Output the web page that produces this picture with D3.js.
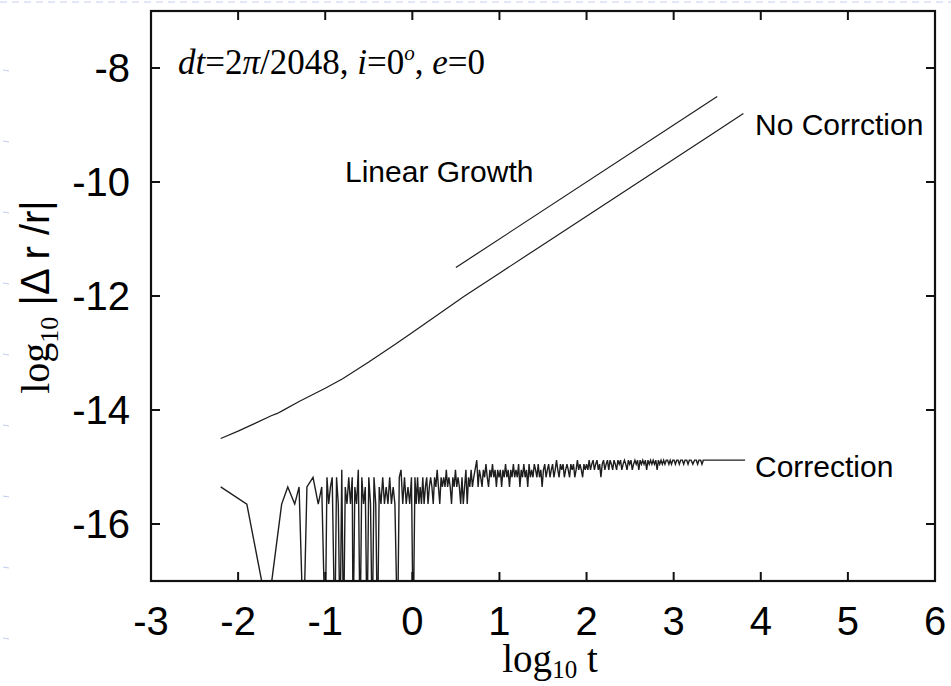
<!DOCTYPE html>
<html>
<head>
<meta charset="utf-8">
<script src="https://cdn.jsdelivr.net/npm/d3@7"></script>
<style>
    body { margin: 0; background: #fff; }
</style>
</head>
<body>
<svg id="chart" width="951" height="686"></svg>
<script>
// tick values
const xTickValues = [-3, -2, -1, 0, 1, 2, 3, 4, 5, 6];
const yTickValues = [-16, -14, -12, -10, -8];

// log10 |dr/r| without correction
const noCorrection = [
    [-2.2, -14.5], [-2.0, -14.37], [-1.8, -14.23], [-1.62, -14.1], [-1.55, -14.06], [-1.5, -14.02],
    [-1.3, -13.85], [-1.0, -13.62], [-0.8, -13.45], [-0.5, -13.16], [-0.2, -12.85], [0, -12.64],
    [0.3, -12.32], [0.6, -12.0], [1.0, -11.6], [1.5, -11.1], [2.0, -10.6], [2.5, -10.1],
    [3.0, -9.6], [3.5, -9.1], [3.8, -8.8]
];

// reference line, slope 1
const linearGrowth = [[0.5, -11.5], [3.5, -8.5]];

// with correction the error sits on round-off levels (1..6 ulp); zero error drops off the bottom
const q1 = -15.65, q2 = -15.35, q3 = -15.18, q4 = -15.05, q5 = -14.95, q6 = -14.88;
const ZERO = -18;
const correction = [
    [-2.2, q2], [-1.9, q1], [-1.66, -17.55], [-1.5, q1], [-1.43, q2], [-1.35, q1],
    [-1.3, q2], [-1.25, ZERO], [-1.21, q2], [-1.14, q3], [-1.08, q1], [-1.04, q2],
    [-1.0, ZERO], [-0.98, q3], [-0.96, q1], [-0.94, q2], [-0.92, q3], [-0.89, ZERO],
    [-0.87, q3], [-0.85, q1], [-0.83, ZERO], [-0.81, q4], [-0.79, ZERO], [-0.77, q2],
    [-0.75, q1], [-0.73, q3], [-0.71, q1], [-0.69, q3], [-0.68, ZERO], [-0.66, q2],
    [-0.64, q1], [-0.62, q4], [-0.60, ZERO], [-0.58, q3], [-0.56, q1], [-0.54, q2],
    [-0.52, ZERO], [-0.50, q3], [-0.48, q1], [-0.46, ZERO], [-0.44, q3], [-0.42, q1],
    [-0.40, ZERO], [-0.38, q2], [-0.36, q1], [-0.34, q3], [-0.32, q1], [-0.30, q2],
    [-0.28, q1], [-0.26, q3], [-0.24, q1], [-0.22, q2], [-0.20, q1], [-0.17, ZERO],
    [-0.15, q3], [-0.13, q4], [-0.11, q1], [-0.09, q3], [-0.07, q1], [-0.05, q2],
    [-0.03, q1], [-0.01, q3], [0.01, ZERO], [0.03, q3],
    [0.045, q1], [0.06, q3], [0.075, q1], [0.09, q2], [0.105, q1], [0.12, q3],
    [0.135, q1], [0.15, q2], [0.165, q3], [0.18, q1], [0.195, q2], [0.21, q3],
    [0.225, q2], [0.24, q1], [0.255, q3], [0.27, q2], [0.285, q4], [0.30, q2],
    [0.315, q1], [0.33, q3], [0.345, q2], [0.36, q3], [0.375, q2], [0.39, q4],
    [0.405, q2], [0.42, q3], [0.435, q2], [0.45, q1], [0.465, q3], [0.48, q2],
    [0.495, q4], [0.51, q2], [0.525, q3], [0.54, q2], [0.555, q1], [0.57, q3],
    [0.585, q1], [0.60, q2], [0.615, q4], [0.63, q1], [0.645, q3], [0.66, q2],
    [0.675, q4], [0.69, q2], [0.705, q3], [0.72, q4], [0.74, q6], [0.755, q2],
    [0.77, q4], [0.785, q3], [0.80, q2], [0.815, q4], [0.83, q3], [0.845, q5],
    [0.86, q3], [0.875, q2], [0.89, q4], [0.905, q3], [0.92, q5], [0.935, q3],
    [0.95, q4], [0.965, q2], [0.98, q4], [0.995, q3],
    [1.010, q4], [1.025, q2], [1.040, q4], [1.055, q3], [1.070, q5], [1.085, q3],
    [1.100, q4], [1.115, q2], [1.130, q4], [1.145, q3], [1.160, q5], [1.175, q3],
    [1.190, q4], [1.205, q3], [1.220, q5], [1.235, q2], [1.250, q4], [1.265, q3],
    [1.280, q5], [1.295, q3], [1.310, q4], [1.325, q2], [1.340, q5], [1.355, q3],
    [1.370, q4], [1.385, q3], [1.400, q5], [1.415, q4], [1.430, q3], [1.445, q5],
    [1.460, q3], [1.475, q4], [1.490, q2], [1.505, q4], [1.520, q5], [1.535, q3],
    [1.550, q4], [1.565, q5], [1.580, q3], [1.595, q4], [1.610, q5], [1.625, q3],
    [1.640, q4], [1.655, q6], [1.670, q4], [1.685, q3], [1.700, q5], [1.715, q4],
    [1.730, q5], [1.745, q3], [1.760, q4], [1.775, q5], [1.790, q4], [1.805, q3],
    [1.820, q5], [1.835, q4], [1.850, q5], [1.865, q3], [1.880, q4], [1.895, q6],
    [1.910, q4], [1.925, q5], [1.940, q4], [1.955, q3], [1.970, q5], [1.985, q4],
    [2.000, q5], [2.015, q4], [2.030, q6], [2.045, q4], [2.060, q5], [2.075, q6],
    [2.090, q4], [2.105, q5], [2.120, q6], [2.135, q4], [2.150, q5], [2.165, q3],
    [2.180, q5], [2.195, q6], [2.210, q4], [2.225, q5], [2.240, q6], [2.255, q4],
    [2.270, q6], [2.285, q5], [2.300, q4], [2.315, q6], [2.330, q5], [2.345, q4],
    [2.360, q6], [2.375, q5], [2.390, q6], [2.405, q4], [2.420, q5], [2.435, q6],
    [2.450, q5], [2.465, q4], [2.480, q6], [2.495, q5], [2.510, q6], [2.525, q4],
    [2.540, q5], [2.555, q6], [2.570, q5], [2.585, q6], [2.600, q4], [2.615, q6],
    [2.630, q5], [2.645, q6], [2.660, q5], [2.675, q6], [2.690, q4], [2.705, q6],
    [2.720, q5], [2.735, q6], [2.750, q5], [2.765, q6], [2.780, q5], [2.795, q6],
    [2.810, q4], [2.825, q6], [2.840, q5], [2.855, q6], [2.870, q5], [2.885, q6],
    [2.900, q5], [2.915, q6], [2.930, q6], [2.945, q5], [2.960, q6], [2.975, q5],
    [2.990, q6], [3.005, q6], [3.020, q5], [3.035, q6], [3.050, q6], [3.065, q5],
    [3.080, q6], [3.100, q6], [3.115, q5], [3.130, q6], [3.150, q6], [3.165, q5],
    [3.180, q6], [3.200, q6], [3.220, q5], [3.240, q6], [3.260, q6], [3.275, q5],
    [3.290, q6], [3.310, q6], [3.325, q5], [3.340, q6], [3.82, q6]
];

const WIDTH = 951;
const HEIGHT = 686;
const PLOT_LEFT = 151;
const PLOT_RIGHT = 935;
const PLOT_TOP = 11;
const PLOT_BOTTOM = 581;
const TICK_LEN = 9;

const SANS = 'Liberation Sans, Arial, Helvetica, sans-serif';
const SERIF = 'Liberation Serif, Times New Roman, serif';
const COLOR_LINE = '#1e1e1e';

const svg = d3.select('#chart');
svg.append('rect').attr('width', WIDTH).attr('height', HEIGHT).attr('fill', '#fff');

// faint slide marks along the top and left edge
svg.append('line')
    .attr('x1', 0).attr('x2', WIDTH).attr('y1', 2).attr('y2', 2)
    .attr('stroke', '#c3cdf2').attr('stroke-width', 1).attr('stroke-dasharray', '7,5');
for (let yy = 70; yy < HEIGHT; yy += 71) {
    svg.append('line')
        .attr('x1', 3).attr('x2', 9).attr('y1', yy).attr('y2', yy + 1)
        .attr('stroke', '#c3cdf2').attr('stroke-width', 1.2);
}

const x = d3.scaleLinear().domain([-3, 6]).range([PLOT_LEFT, PLOT_RIGHT]);
const y = d3.scaleLinear().domain([-17, -7]).range([PLOT_BOTTOM, PLOT_TOP]);

const g = svg.append('g');

svg.append('clipPath').attr('id', 'plotClip')
    .append('rect')
    .attr('x', PLOT_LEFT).attr('y', PLOT_TOP)
    .attr('width', PLOT_RIGHT - PLOT_LEFT).attr('height', PLOT_BOTTOM - PLOT_TOP);

let line = d3.line()
    .x(function (d) { return x(d[0]); })
    .y(function (d) { return y(d[1]); });

// data lines
const dataG = g.append('g').attr('clip-path', 'url(#plotClip)');
[
    { data: noCorrection, width: 1.2 },
    { data: linearGrowth, width: 1.2 },
    { data: correction, width: 1.4 },
].forEach(function (series) {
    dataG.append('path')
        .attr('d', line(series.data))
        .attr('fill', 'none')
        .attr('stroke', COLOR_LINE)
        .attr('stroke-width', series.width)
        .attr('stroke-linejoin', 'miter');
});

// ticks, inward on all four sides
xTickValues.forEach(function (v) {
    g.append('line').attr('x1', x(v)).attr('x2', x(v))
        .attr('y1', PLOT_BOTTOM).attr('y2', PLOT_BOTTOM - TICK_LEN)
        .attr('stroke', '#111').attr('stroke-width', 2);
    g.append('line').attr('x1', x(v)).attr('x2', x(v))
        .attr('y1', PLOT_TOP).attr('y2', PLOT_TOP + TICK_LEN)
        .attr('stroke', '#111').attr('stroke-width', 2);
    g.append('text')
        .text(v)
        .attr('x', x(v))
        .attr('y', 635)
        .attr('text-anchor', 'middle')
        .attr('font-family', SANS)
        .attr('font-size', 40)
        .attr('fill', '#000');
});

yTickValues.forEach(function (v) {
    g.append('line').attr('x1', PLOT_LEFT).attr('x2', PLOT_LEFT + TICK_LEN)
        .attr('y1', y(v)).attr('y2', y(v))
        .attr('stroke', '#111').attr('stroke-width', 2);
    g.append('line').attr('x1', PLOT_RIGHT).attr('x2', PLOT_RIGHT - TICK_LEN)
        .attr('y1', y(v)).attr('y2', y(v))
        .attr('stroke', '#111').attr('stroke-width', 2);
    g.append('text')
        .text(v)
        .attr('x', 130)
        .attr('y', y(v) + 14)
        .attr('text-anchor', 'end')
        .attr('font-family', SANS)
        .attr('font-size', 40)
        .attr('fill', '#000');
});

// frame
g.append('rect')
    .attr('x', PLOT_LEFT).attr('y', PLOT_TOP)
    .attr('width', PLOT_RIGHT - PLOT_LEFT).attr('height', PLOT_BOTTOM - PLOT_TOP)
    .attr('fill', 'none').attr('stroke', '#111').attr('stroke-width', 2.2);

// axis titles
const xTitle = g.append('text')
    .attr('x', 550).attr('y', 672)
    .attr('text-anchor', 'middle')
    .attr('font-family', SERIF)
    .attr('font-size', 39);
xTitle.append('tspan').text('log');
xTitle.append('tspan').text('10').attr('font-size', 25).attr('dy', 6);
xTitle.append('tspan').text(' t').attr('dy', -6);

const yTitle = g.append('text')
    .attr('transform', 'translate(49,297) rotate(-90)')
    .attr('text-anchor', 'middle')
    .attr('font-family', SERIF)
    .attr('font-size', 40);
yTitle.append('tspan').text('log');
yTitle.append('tspan').text('10').attr('font-size', 26).attr('dy', 9);
yTitle.append('tspan').text(' |\u0394 r /r|').attr('dy', -9).attr('font-family', SANS);

// parameters
const note = g.append('text')
    .attr('x', 178).attr('y', 74)
    .attr('font-family', SERIF)
    .attr('font-size', 35);
note.append('tspan').text('dt').attr('font-style', 'italic');
note.append('tspan').text('=2');
note.append('tspan').text('\u03c0').attr('font-style', 'italic');
note.append('tspan').text('/2048, ');
note.append('tspan').text('i').attr('font-style', 'italic');
note.append('tspan').text('=0');
note.append('tspan').text('o').attr('font-style', 'italic').attr('font-size', 21).attr('dy', -14);
note.append('tspan').text(', ').attr('dy', 14);
note.append('tspan').text('e').attr('font-style', 'italic');
note.append('tspan').text('=0');

// line labels
const labels = [
    { text: 'Linear Growth', x: 345, y: 182 },
    { text: 'No Corrction', x: 755, y: 135 },
    { text: 'Correction', x: 755, y: 477 },
];
labels.forEach(function (l) {
    g.append('text')
        .text(l.text)
        .attr('x', l.x).attr('y', l.y)
        .attr('font-family', SANS)
        .attr('font-size', 30)
        .attr('fill', '#000');
});
</script>
</body>
</html>
